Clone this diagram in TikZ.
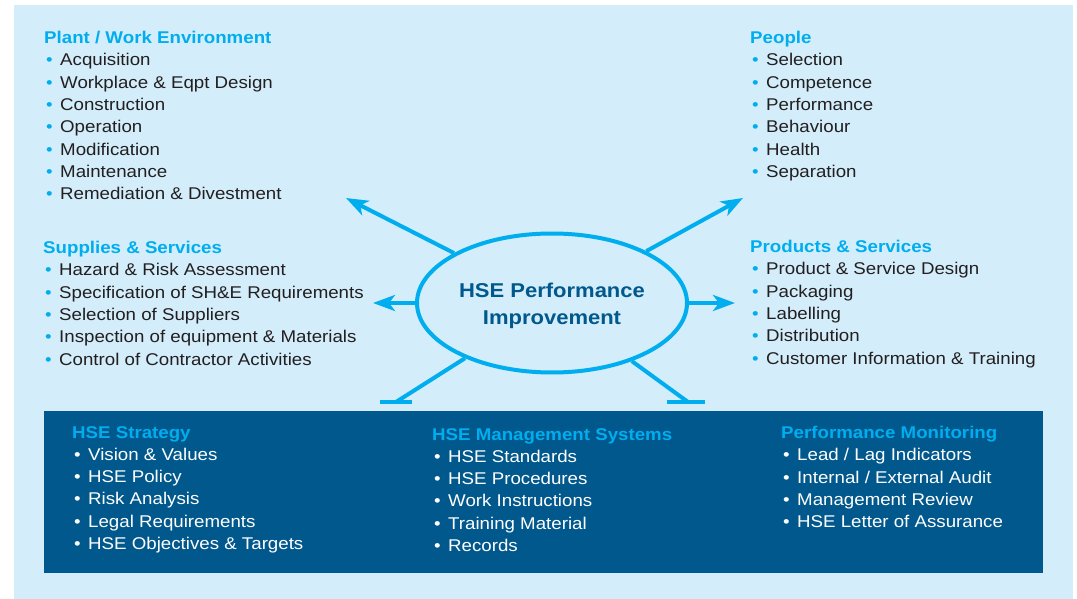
\documentclass[tikz,border=0pt]{standalone}
\usepackage{fontspec}
\setmainfont[FakeStretch=1.1]{Liberation Sans}
\usetikzlibrary{shapes,arrows.meta}
\definecolor{PanelBlue}{RGB}{211,237,250}
\definecolor{BoxBlue}{RGB}{0,88,140}
\definecolor{HseCyan}{RGB}{0,174,239}
\definecolor{HseText}{RGB}{35,31,32}
\newcommand{\hitem}[2]{\makebox[16pt][l]{\hspace{2pt}\textcolor{#1}{\textbullet}}#2}
\newcommand{\htitle}[1]{\textcolor{HseCyan}{\bfseries #1}}

\begin{document}
\begin{tikzpicture}[x=1pt,y=-1pt]
		\tikzstyle{every node}=[inner sep=0pt, align=left, anchor=north west, text=HseText, font=\fontsize{17}{22.3}\selectfont];
		\tikzstyle{ray}=[draw=HseCyan, line width=4pt, -{Stealth[length=22pt,width=16pt,inset=6pt]}];
		\tikzstyle{stub}=[draw=HseCyan, line width=4pt];
		\useasboundingbox (0,0) rectangle (1077,599);
		\fill[white] (0,0) rectangle (1077,599);
		\fill[PanelBlue] (14,5) rectangle (1073,599);
		\fill[BoxBlue] (44,411) rectangle (1043,573);
		% upper blocks
		\node (plant) at (44,31) {\htitle{Plant / Work Environment}\\
			\hitem{HseCyan}{Acquisition}\\
			\hitem{HseCyan}{Workplace \& Eqpt Design}\\
			\hitem{HseCyan}{Construction}\\
			\hitem{HseCyan}{Operation}\\
			\hitem{HseCyan}{Modification}\\
			\hitem{HseCyan}{Maintenance}\\
			\hitem{HseCyan}{Remediation \& Divestment}};
		\node (supplies) at (43,241) {\htitle{Supplies \& Services}\\
			\hitem{HseCyan}{Hazard \& Risk Assessment}\\
			\hitem{HseCyan}{Specification of SH\&E Requirements}\\
			\hitem{HseCyan}{Selection of Suppliers}\\
			\hitem{HseCyan}{Inspection of equipment \& Materials}\\
			\hitem{HseCyan}{Control of Contractor Activities}};
		\node (people) at (750,31) {\htitle{People}\\
			\hitem{HseCyan}{Selection}\\
			\hitem{HseCyan}{Competence}\\
			\hitem{HseCyan}{Performance}\\
			\hitem{HseCyan}{Behaviour}\\
			\hitem{HseCyan}{Health}\\
			\hitem{HseCyan}{Separation}};
		\node (products) at (750,240) {\htitle{Products \& Services}\\
			\hitem{HseCyan}{Product \& Service Design}\\
			\hitem{HseCyan}{Packaging}\\
			\hitem{HseCyan}{Labelling}\\
			\hitem{HseCyan}{Distribution}\\
			\hitem{HseCyan}{Customer Information \& Training}};
		% lower blocks
		\node [text=white] (strategy) at (72,426) {\htitle{HSE Strategy}\\
			\hitem{white}{Vision \& Values}\\
			\hitem{white}{HSE Policy}\\
			\hitem{white}{Risk Analysis}\\
			\hitem{white}{Legal Requirements}\\
			\hitem{white}{HSE Objectives \& Targets}};
		\node [text=white] (systems) at (432,428) {\htitle{HSE Management Systems}\\
			\hitem{white}{HSE Standards}\\
			\hitem{white}{HSE Procedures}\\
			\hitem{white}{Work Instructions}\\
			\hitem{white}{Training Material}\\
			\hitem{white}{Records}};
		\node [text=white] (monitoring) at (781,426) {\htitle{Performance Monitoring}\\
			\hitem{white}{Lead / Lag Indicators}\\
			\hitem{white}{Internal / External Audit}\\
			\hitem{white}{Management Review}\\
			\hitem{white}{HSE Letter of Assurance}};
		% centre
		\node [ellipse, draw=HseCyan, line width=4pt, minimum width=270pt, minimum height=139pt, anchor=center, align=center, text=BoxBlue, font=\bfseries\fontsize{20}{27}\selectfont] (hse) at (552,303) {\rule{0pt}{21pt}HSE Performance\\Improvement};
		\coordinate (tipUL) at (346,198);
		\coordinate (tipUR) at (743,198);
		\coordinate (tipL) at (373,303);
		\coordinate (tipR) at (735,303);
		\coordinate (footL) at (396,402);
		\coordinate (footR) at (688,402);
		\coordinate (barL1) at (380,402);
		\coordinate (barL2) at (412,402);
		\coordinate (barR1) at (667,402);
		\coordinate (barR2) at (705,402);
		\draw[ray] (hse) -- (tipUL);
		\draw[ray] (hse) -- (tipUR);
		\draw[ray] (hse.west) -- (tipL);
		\draw[ray] (hse.east) -- (tipR);
		\draw[stub] (hse) -- (footL);
		\draw[stub] (hse) -- (footR);
		\draw[stub] (barL1) -- (barL2);
		\draw[stub] (barR1) -- (barR2);
	\end{tikzpicture}
\end{document}
